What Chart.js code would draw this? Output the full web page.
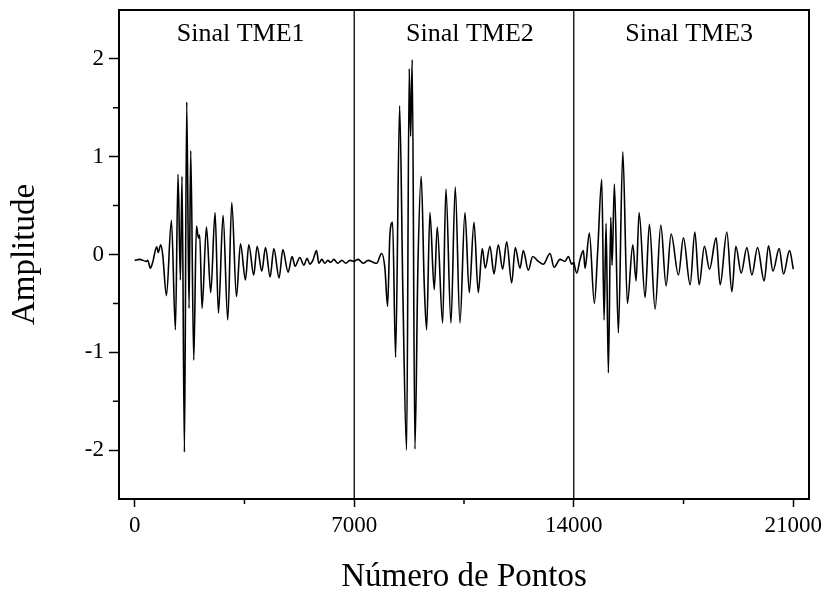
<!DOCTYPE html>
<html><head><meta charset="utf-8">
<script src="https://cdn.jsdelivr.net/npm/chart.js@4/dist/chart.umd.min.js"></script>
<style>html,body{margin:0;padding:0;background:#fff}</style>
</head><body>
<canvas id="c" width="830" height="597"></canvas>
<script>
const tme1X = [0,160,373,415,501,574,702,750,830,893,1012,1171,1299,1382,1458,1509,1586,1659,1733,1787,1883,1969,2033,2074,2148,2288,2425,2563,2671,2818,2968,3095,3245,3373,3532,3638,3797,3903,4053,4171,4318,4436,4605,4723,4892,5020,5115,5265,5393,5498,5584,5680,5798,5871,5967,6063,6159,6254,6350,6478,6605,6733,6861,7000];
const tme1Y = [-0.06,-0.05,-0.07,-0.06,-0.14,-0.08,0.08,0.02,0.10,0.0,-0.42,0.35,-0.77,0.82,-0.26,0.80,-2.02,1.56,-0.55,1.06,-1.08,0.29,0.17,0.20,-0.55,0.28,-0.39,0.43,-0.60,0.40,-0.67,0.53,-0.43,0.11,-0.26,0.10,-0.21,0.085,-0.17,0.07,-0.23,0.06,-0.24,0.05,-0.18,-0.02,-0.12,-0.03,-0.11,-0.04,-0.10,-0.06,0.04,-0.09,-0.05,-0.09,-0.06,-0.08,-0.05,-0.09,-0.06,-0.09,-0.06,-0.07];
const tme2X = [7000,7126,7285,7445,7604,7713,7872,7978,8064,8137,8223,8319,8447,8552,8670,8753,8798,8849,8935,9030,9136,9232,9308,9413,9551,9647,9819,9924,10084,10221,10371,10530,10668,10818,10955,11082,11178,11328,11456,11593,11733,11861,12020,12135,12285,12391,12550,12691,12870,13029,13243,13370,13562,13721,13827,13934,14000];
const tme2Y = [-0.07,-0.05,-0.09,-0.06,-0.08,-0.09,0.01,-0.14,-0.53,0.20,0.33,-1.05,1.52,-0.41,-2.0,1.90,1.21,1.99,-1.99,-0.13,0.80,-0.30,-0.77,0.43,-0.36,0.28,-0.70,0.67,-0.70,0.69,-0.70,0.43,-0.39,0.33,-0.39,0.06,-0.14,0.085,-0.20,0.10,-0.15,0.13,-0.29,0.07,-0.14,0.04,-0.16,-0.02,-0.07,-0.10,0.01,-0.13,-0.05,-0.07,-0.02,-0.10,-0.08];
const tme3X = [14000,14095,14200,14306,14360,14497,14657,14765,14892,14966,15030,15103,15180,15221,15295,15422,15563,15709,15882,15987,16083,16274,16411,16593,16775,16944,17104,17337,17496,17710,17860,17997,18166,18326,18540,18667,18881,19041,19168,19337,19519,19679,19858,20071,20209,20349,20550,20687,20879,21000];
const tme3Y = [-0.08,-0.19,-0.05,0.04,-0.14,0.22,-0.50,0.05,0.77,-0.67,0.32,-1.21,0.38,-0.11,0.72,-0.80,1.05,-0.50,0.10,-0.27,0.43,-0.44,0.31,-0.56,0.30,-0.32,0.21,-0.21,0.17,-0.31,0.23,-0.31,0.085,-0.15,0.17,-0.31,0.23,-0.38,0.085,-0.19,0.07,-0.21,0.07,-0.27,0.09,-0.17,0.06,-0.20,0.04,-0.15];

const separatorX = [7000, 14000];
const xTicks = [0, 7000, 14000, 21000];
const xMinorTicks = [3500, 10500, 17500];
const yTicks = [-2, -1, 0, 1, 2];
const yMinorTicks = [-1.5, -0.5, 0.5, 1.5];
const segLabels = ['Sinal TME1', 'Sinal TME2', 'Sinal TME3'];
const segLabelX = [3380, 10690, 17680];
const segLabelY = [2.18, 2.18, 2.18];

const FONT = "'Liberation Serif','Times New Roman',serif";
const zip = (xs, ys) => xs.map((x, i) => ({x: x, y: ys[i]}));
const sig = (xs, ys) => ({data: zip(xs, ys), borderColor: '#000', borderWidth: 1.6, pointRadius: 0, cubicInterpolationMode: 'monotone', fill: false});
const sep = x => ({data: [{x: x, y: -2.5}, {x: x, y: 2.5}], borderColor: '#000', borderWidth: 1.3, pointRadius: 0, fill: false});

const extras = {
  id: 'extras',
  afterDraw(chart) {
    const {ctx, chartArea: a, scales: {x, y}} = chart;
    ctx.save();
    ctx.strokeStyle = '#000';
    ctx.lineWidth = 2;
    ctx.beginPath();
    ctx.moveTo(a.left, a.top); ctx.lineTo(a.right, a.top); ctx.lineTo(a.right, a.bottom);
    ctx.stroke();
    ctx.lineWidth = 1.5;
    ctx.beginPath();
    xMinorTicks.forEach(v => { const p = x.getPixelForValue(v); ctx.moveTo(p, a.bottom); ctx.lineTo(p, a.bottom + 5); });
    yMinorTicks.forEach(v => { const p = y.getPixelForValue(v); ctx.moveTo(a.left, p); ctx.lineTo(a.left - 6, p); });
    ctx.stroke();
    ctx.fillStyle = '#000';
    ctx.font = '26px ' + FONT;
    ctx.textAlign = 'center';
    ctx.textBaseline = 'alphabetic';
    segLabels.forEach((t, i) => ctx.fillText(t, x.getPixelForValue(segLabelX[i]), y.getPixelForValue(segLabelY[i])));
    ctx.restore();
  }
};

new Chart(document.getElementById('c'), {
  type: 'line',
  data: {datasets: [sig(tme1X, tme1Y), sig(tme2X, tme2Y), sig(tme3X, tme3Y), ...separatorX.map(sep)]},
  options: {
    responsive: false, animation: false,
    layout: {padding: {top: 10, right: 21, left: 0, bottom: 0}},
    plugins: {legend: {display: false}, tooltip: {enabled: false}},
    scales: {
      x: {
        type: 'linear', min: -500, max: 21500,
        afterBuildTicks: s => { s.ticks = xTicks.map(v => ({value: v})); },
        afterFit: s => { s.height = 98; s.paddingLeft = 0; s.paddingRight = 0; },
        ticks: {font: {family: FONT, size: 23}, color: '#000', padding: 5, maxRotation: 0, autoSkip: false, callback: v => String(v)},
        grid: {drawOnChartArea: false, tickLength: 8, tickWidth: 1.5, tickColor: '#000'},
        border: {color: '#000', width: 2},
        title: {display: true, text: 'Número de Pontos', font: {family: FONT, size: 33}, color: '#000', padding: {top: 0, bottom: 0}}
      },
      y: {
        type: 'linear', min: -2.5, max: 2.5,
        afterBuildTicks: s => { s.ticks = yTicks.map(v => ({value: v})); },
        afterFit: s => { s.width = 119; s.paddingTop = 0; s.paddingBottom = 0; },
        ticks: {font: {family: FONT, size: 23}, color: '#000', padding: 5, callback: v => String(v)},
        grid: {drawOnChartArea: false, tickLength: 10, tickWidth: 1.5, tickColor: '#000'},
        border: {color: '#000', width: 2},
        title: {display: true, text: 'Amplitude', font: {family: FONT, size: 33}, color: '#000', padding: {top: 6, bottom: 0}}
      }
    }
  },
  plugins: [extras]
});
</script>
</body></html>
